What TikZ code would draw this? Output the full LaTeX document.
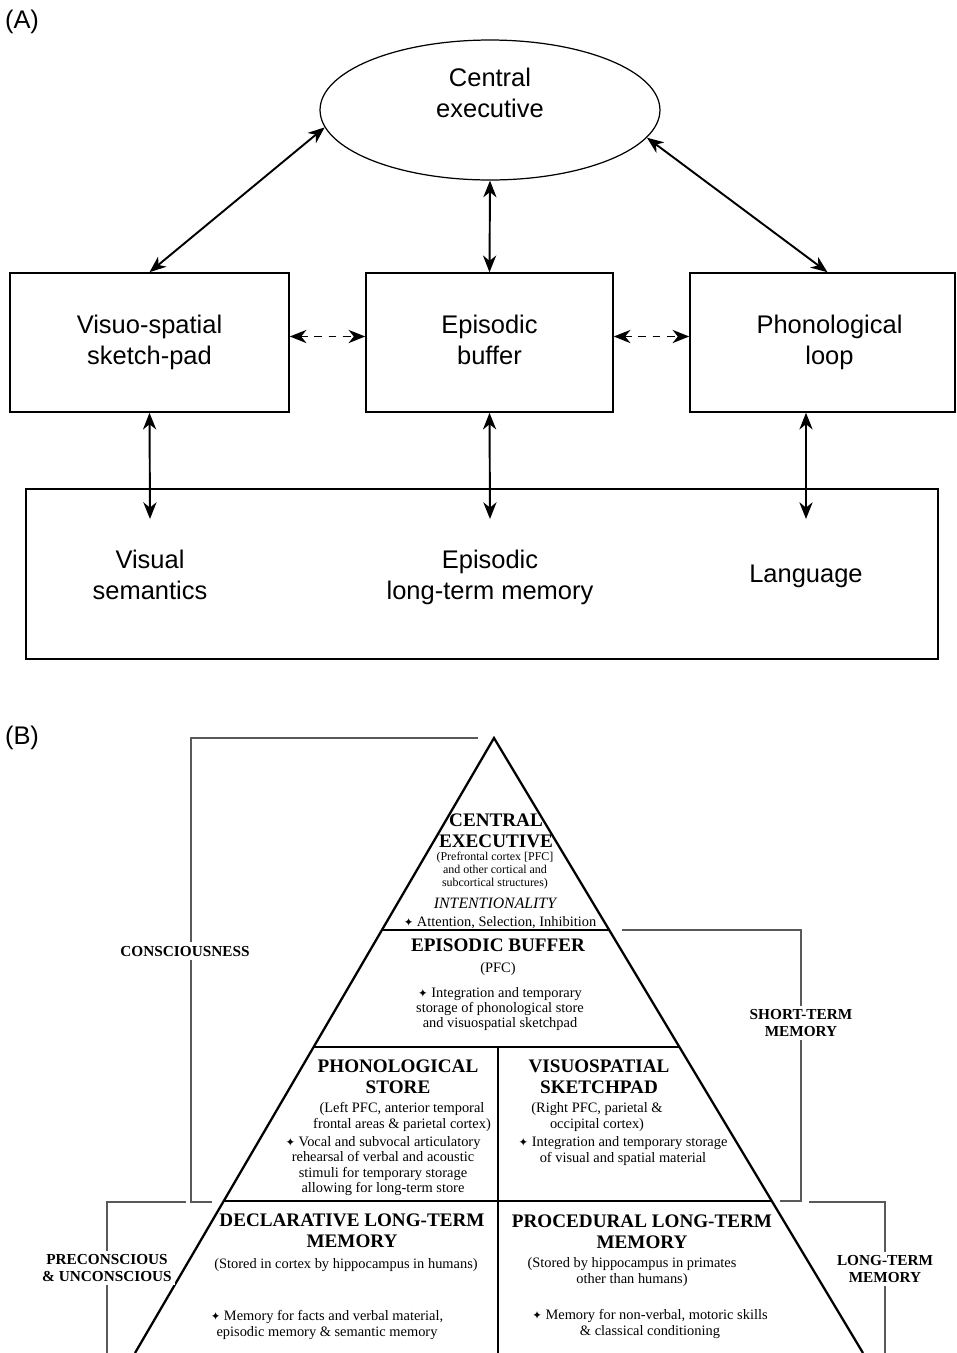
\documentclass[tikz,border=0pt]{standalone}
\usepackage{fontspec}
\newfontfamily\afont{Liberation Sans}
\newfontfamily\bfont{Liberation Serif}
\newfontfamily\symfont{DejaVu Sans}
\usetikzlibrary{shapes.geometric,arrows.meta,calc}
\newcommand{\starmark}{{\symfont\fontsize{6.5}{6.5}\selectfont ✦}}
\tikzset{
  >={Stealth[length=9.5pt,width=7.5pt,inset=3pt]},
  atext/.style={font=\afont\fontsize{14.5}{17.6}\selectfont,align=center},
  abox/.style={draw,line width=0.9pt,minimum height=2.78cm},
  conn/.style={line width=1.1pt,<->},
  dashconn/.style={conn,dash pattern=on 4.5pt off 3.5pt},
  tri/.style={line width=1.3pt},
  brk/.style={line width=0.7pt,black!65},
  bhead/.style={font=\bfont\bfseries\fontsize{10.9}{11.9}\selectfont,align=center,inner sep=1pt},
  btext/.style={font=\bfont\fontsize{8.2}{8.6}\selectfont,align=center,inner sep=1pt},
  btiny/.style={font=\bfont\fontsize{6.8}{7.4}\selectfont,align=center,inner sep=1pt},
  blabel/.style={font=\bfont\bfseries\fontsize{8.7}{9.6}\selectfont,align=center,fill=white,inner sep=2pt}
}
\begin{document}
\begin{tikzpicture}[x=0.02cm,y=-0.02cm]
  \useasboundingbox (0,0) rectangle (957,1353);
  % (A) working memory model
  \node[atext] (la) at (22,22) {(A)};
  \node[draw,ellipse,line width=0.7pt,minimum width=6.8cm,minimum height=2.8cm] (ce) at (490,110) {};
  \node[atext] (cetext) at (490,93) {Central\\executive};
  \node[abox,minimum width=5.58cm,atext] (vs) at (149.5,342.5) {Visuo-spatial\\sketch-pad};
  \node[abox,minimum width=4.94cm,atext,text depth=0.1cm] (eb) at (489.5,342.5) {Episodic\\buffer};
  \node[abox,minimum width=5.30cm,atext] (pl) at (822.5,342.5) {\hspace*{0.28cm}Phonological\\\hspace*{0.28cm}loop};
  \node[draw,line width=0.9pt,minimum width=18.24cm,minimum height=3.4cm] (ltm) at (482,574) {};
  \node[atext] (vsem) at (150,575) {Visual\\semantics};
  \node[atext] (epltm) at (490,577) {Episodic\\long-term memory};
  \node[atext] (lang) at (806,576) {Language};
  \coordinate (vsend) at (150,519);
  \coordinate (ebend) at (490,519);
  \coordinate (plend) at (806,519);
  \draw[conn] (ce.186) -- (vs.north);
  \draw[conn] (ce.south) -- (eb.north);
  \draw[conn] (ce.350) -- ([xshift=0.1cm]pl.north);
  \draw[dashconn] ([yshift=0.12cm]vs.east) -- ([yshift=0.12cm]eb.west);
  \draw[dashconn] ([yshift=0.12cm]eb.east) -- ([yshift=0.12cm]pl.west);
  \draw[conn] (vs.south) -- (vsend);
  \draw[conn] (eb.south) -- (ebend);
  \draw[conn] (pl.south -| plend) -- (plend);

  % (B) pyramid
  \node[atext] (lb) at (22,738) {(B)};
  \coordinate (apex) at (494,738);
  \coordinate (bl) at (135,1353);
  \coordinate (br) at (863,1353);
  \draw[tri] (bl) -- (apex) -- (br);
  \draw[tri] ($(apex)!0.3122!(bl)$) -- ($(apex)!0.3122!(br)$);
  \draw[tri] ($(apex)!0.5024!(bl)$) -- ($(apex)!0.5024!(br)$);
  \draw[tri] ($(apex)!0.7528!(bl)$) -- ($(apex)!0.7528!(br)$);
  \draw[tri] (498,1047) -- (498,1353);
  % brackets
  \draw[brk] (478,738) -- (191,738) -- (191,1202) -- (212,1202);
  \draw[brk] (622,930) -- (801,930) -- (801,1201) -- (780,1201);
  \draw[brk] (186,1202) -- (107,1202) -- (107,1353);
  \draw[brk] (809,1202) -- (885,1202) -- (885,1353);
  \node[blabel] (cons) at (185,951) {CONSCIOUSNESS};
  \node[blabel] (stm) at (801,1023) {SHORT-TERM\\MEMORY};
  \node[blabel] (pre) at (107,1268) {PRECONSCIOUS\\\& UNCONSCIOUS};
  \node[blabel] (lt) at (885,1269) {LONG-TERM\\MEMORY};
  % central executive
  \node[bhead] (cehd) at (496,831) {CENTRAL\\EXECUTIVE};
  \node[btiny] (cepar) at (495,871) {(Prefrontal cortex [PFC]\\and other cortical and\\subcortical structures)};
  \node[font=\bfont\itshape\fontsize{9}{10}\selectfont,inner sep=1pt] (intent) at (495,903) {INTENTIONALITY};
  \node[btext] (att) at (500,923) {\starmark\ Attention, Selection, Inhibition};
  % episodic buffer
  \node[bhead] (ebhd) at (498,945) {EPISODIC BUFFER};
  \node[btext] (ebpar) at (498,969) {(PFC)};
  \node[btext] (ebtxt) at (500,1009) {\starmark\ Integration and temporary\\storage of phonological store\\and visuospatial sketchpad};
  % phonological store
  \node[bhead] (pshd) at (398,1077) {PHONOLOGICAL\\STORE};
  \node[btext] (pspar) at (402,1117) {(Left PFC, anterior temporal\\frontal areas \& parietal cortex)};
  \node[btext] (pstxt) at (383,1166) {\starmark\ Vocal and subvocal articulatory\\rehearsal of verbal and acoustic\\stimuli for temporary storage\\allowing for long-term store};
  % visuospatial sketchpad
  \node[bhead] (vsshd) at (599,1077) {VISUOSPATIAL\\SKETCHPAD};
  \node[btext] (vsspar) at (597,1117) {(Right PFC, parietal \&\\occipital cortex)};
  \node[btext] (vsstxt) at (623,1151) {\starmark\ Integration and temporary storage\\of visual and spatial material};
  % declarative
  \node[bhead] (dlhd) at (352,1231) {DECLARATIVE LONG-TERM\\MEMORY};
  \node[btext] (dlpar) at (346,1265) {(Stored in cortex by hippocampus in humans)};
  \node[btext] (dltxt) at (327,1325) {\starmark\ Memory for facts and verbal material,\\episodic memory \& semantic memory};
  % procedural
  \node[bhead] (plhd) at (642,1232) {PROCEDURAL LONG-TERM\\MEMORY};
  \node[btext] (plpar) at (632,1272) {(Stored by hippocampus in primates\\other than humans)};
  \node[btext] (pltxt) at (650,1324) {\starmark\ Memory for non-verbal, motoric skills\\\& classical conditioning};
\end{tikzpicture}
\end{document}
